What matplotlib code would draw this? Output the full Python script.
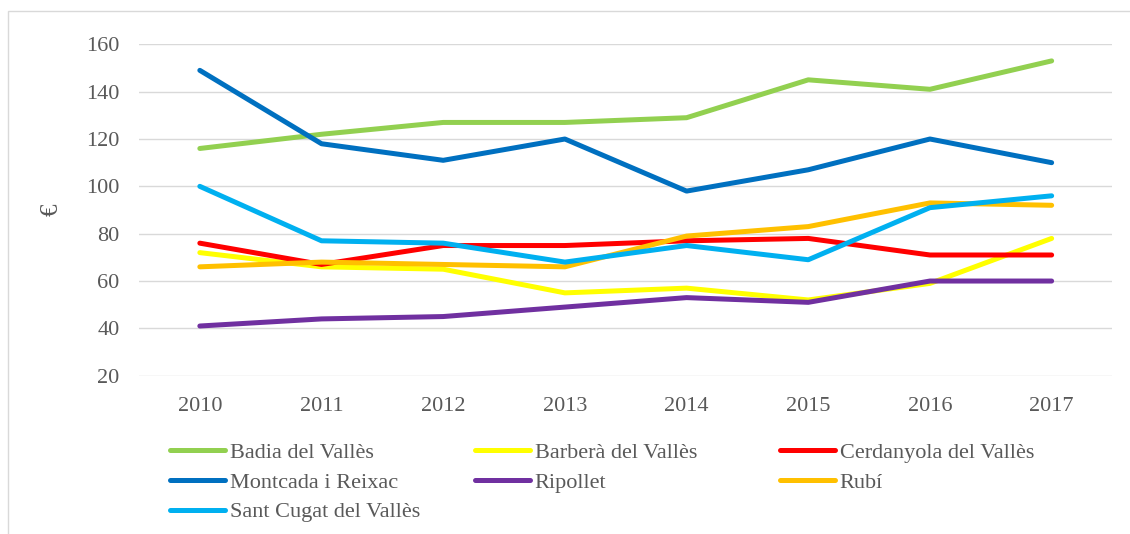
import numpy as np
import matplotlib
matplotlib.use('Agg')
import matplotlib.pyplot as plt
from matplotlib.patches import Rectangle

plt.rcParams['font.family'] = ['Liberation Serif', 'DejaVu Serif']

years = ['2010', '2011', '2012', '2013', '2014', '2015', '2016', '2017']

badia = [116, 122, 127, 127, 129, 145, 141, 153]
barbera = [72, 66, 65, 55, 57, 52, 59, 78]
cerdanyola = [76, 67, 75, 75, 77, 78, 71, 71]
montcada = [149, 118, 111, 120, 98, 107, 120, 110]
ripollet = [41, 44, 45, 49, 53, 51, 60, 60]
rubi = [66, 68, 67, 66, 79, 83, 93, 92]
santcugat = [100, 77, 76, 68, 75, 69, 91, 96]

names = ['Badia del Vallès', 'Barberà del Vallès', 'Cerdanyola del Vallès',
         'Montcada i Reixac', 'Ripollet', 'Rubí', 'Sant Cugat del Vallès']
series = [badia, barbera, cerdanyola, montcada, ripollet, rubi, santcugat]
colors = ['#92D050', '#FFFF00', '#FF0000', '#0070C0', '#7030A0', '#FFC000', '#00B0F0']

yticks = [20, 40, 60, 80, 100, 120, 140, 160]

txt = '#595959'
grid = '#D9D9D9'

fig = plt.figure(figsize=(11.3, 5.34), dpi=100)
ax = fig.add_axes([0.123, 0.2964, 0.8615, 0.6206])

x = np.arange(len(years))
lines = {}
for name, vals, c in zip(names, series, colors):
    ln, = ax.plot(x, vals, color=c, lw=3.6, solid_capstyle='round',
                  solid_joinstyle='round')
    lines[name] = ln

ax.set_xlim(-0.5, len(years) - 0.5)
ax.set_ylim(20, 160)
ax.set_yticks(yticks)
ax.set_xticks(x)
ax.set_xticklabels(years)
for s in ax.spines.values():
    s.set_visible(False)
ax.yaxis.grid(True, color=grid, lw=1.0)
ax.set_axisbelow(True)
ax.tick_params(length=0, labelsize=16, colors=txt)
ax.tick_params(axis='y', pad=14)
ax.tick_params(axis='x', pad=15)

ax.set_ylabel('€', fontsize=18, color=txt)
ax.yaxis.set_label_coords(-0.078, 0.5)

# legend in three fixed columns, like the Excel layout
cols = [['Badia del Vallès', 'Montcada i Reixac', 'Sant Cugat del Vallès'],
        ['Barberà del Vallès', 'Ripollet'],
        ['Cerdanyola del Vallès', 'Rubí']]
xpos = [0.150, 0.420, 0.690]
for cx, col in zip(xpos, cols):
    leg = fig.legend([lines[n] for n in col], col, loc='upper left',
                     bbox_to_anchor=(cx, 0.172), frameon=False, fontsize=16,
                     handlelength=2.5, handletextpad=0.2, labelspacing=0.42,
                     borderaxespad=0, borderpad=0)
    for t in leg.get_texts():
        t.set_color(txt)

fig.patches.append(Rectangle((8 / 1130, -0.1), 1.2, 0.1 + 1 - 11 / 534,
                             transform=fig.transFigure, fill=False,
                             edgecolor=grid, lw=1.0))

fig.savefig('out.png', dpi=100)
